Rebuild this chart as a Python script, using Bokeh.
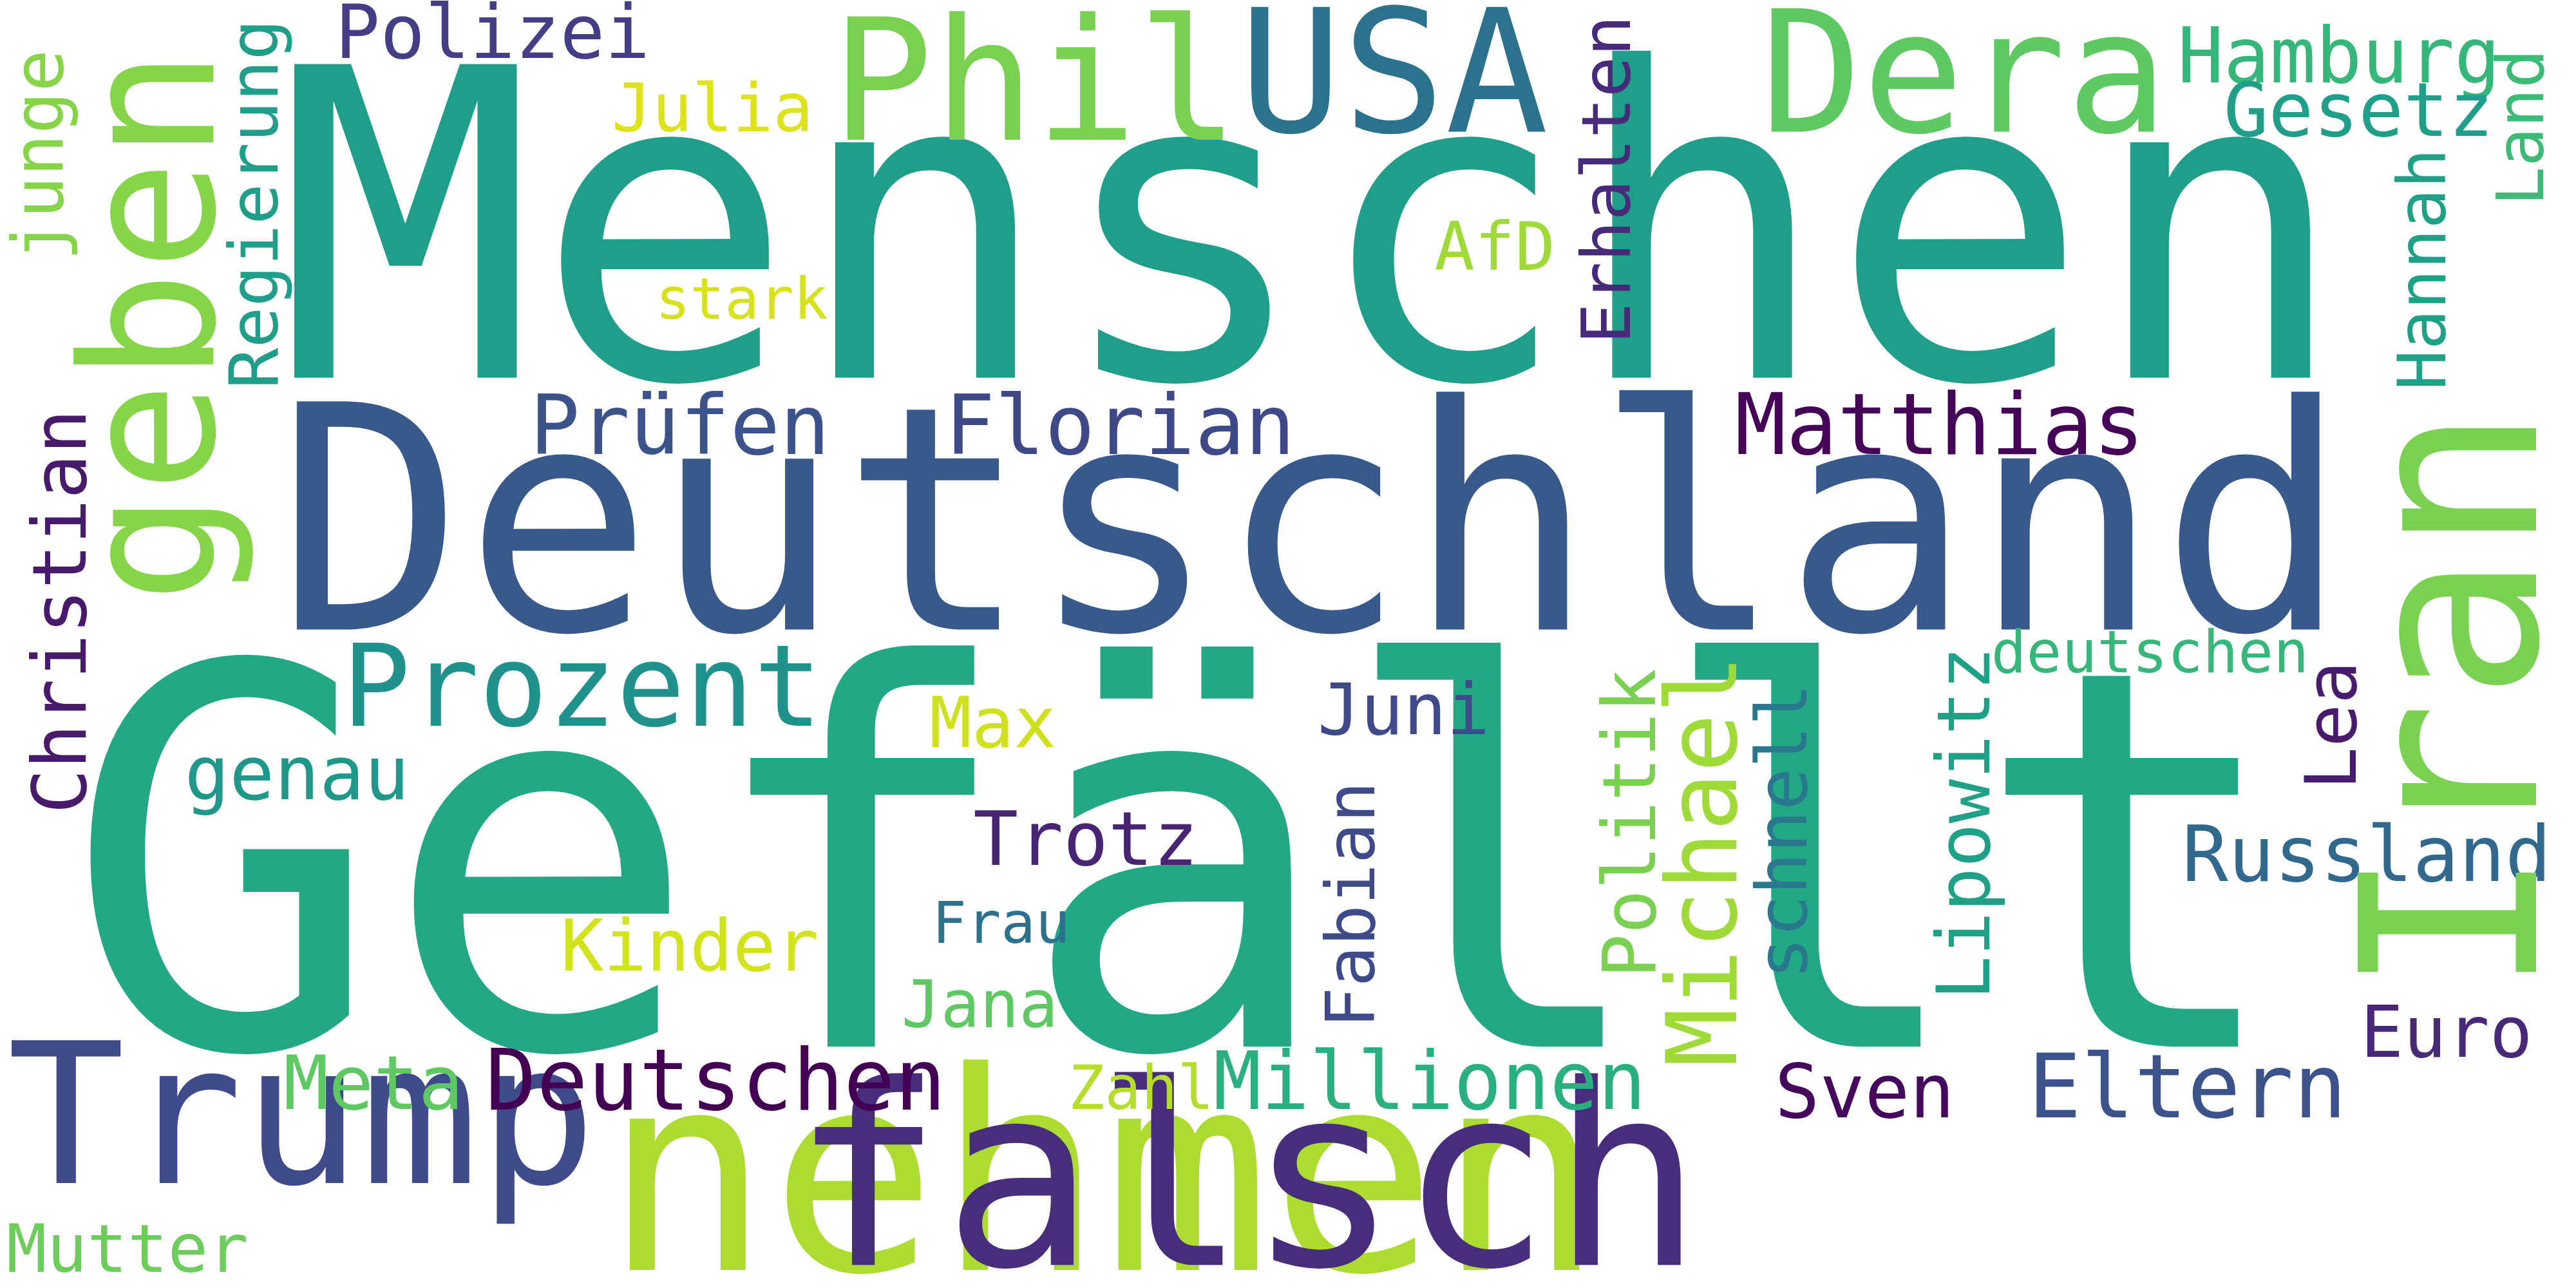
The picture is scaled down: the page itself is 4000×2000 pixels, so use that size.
import math
from bokeh.plotting import figure
from bokeh.models import ColumnDataSource, Range1d
from bokeh.core.properties import value
from bokeh.embed import file_html
from bokeh.resources import INLINE

W, H = 3968, 1984
ref_w, ref_h = 1568, 784
scale = W / ref_w

words = ["Menschen", "Gefällt", "Deutschland", "nehmen", "falsch", "Trump", "Phil", "USA", "Dera",
         "Prozent", "Prüfen", "Florian", "Matthias", "Polizei", "Julia", "Hamburg", "Gesetz", "AfD",
         "stark", "genau", "Juni", "Max", "Trotz", "Kinder", "Frau", "Jana", "Meta", "Deutschen",
         "Zahl", "Millionen", "Sven", "Eltern", "Euro", "Russland", "deutschen", "Mutter",
         "geben", "Iran", "Regierung", "junge", "Christian", "Erhalten", "Hannah", "Land", "Lea",
         "Fabian", "Politik", "Michael", "schnell", "Lipowitz"]
xs = [805, 722, 805, 677, 765, 185, 635, 855, 1205,
      357, 417, 687, 1190, 302, 437, 1435, 1447, 917,
      455, 182, 861, 609, 666, 423, 614, 601, 229, 439,
      700, 877, 1144, 1342, 1501, 1452, 1319, 78,
      130, 1555, 170, 38, 52, 1000, 1500, 1560, 1445,
      843, 1015, 1065, 1108, 1220]
ys = [230, 640, 385, 778, 775, 725, 85, 80, 80,
      445, 278, 278, 278, 35, 80, 50, 83, 165,
      195, 490, 450, 458, 530, 595, 578, 630, 680, 680,
      680, 680, 685, 685, 648, 540, 412, 780,
      200, 430, 125, 95, 375, 110, 165, 78, 445,
      555, 505, 528, 510, 505]
sizes = [264, 324, 192, 170, 155, 120, 104, 105, 104,
         70, 51, 51, 52, 46, 41, 47, 46, 41,
         35, 46, 44, 43, 46, 44, 35, 40, 46, 52,
         37, 49, 46, 54, 44, 47, 36, 41,
         113, 150, 42, 43, 46, 42, 41, 40, 44,
         42, 45, 60, 43, 45]
vertical = [0] * 36 + [1] * 14
colors = ["#1f9e89", "#22a884", "#38598c", "#addc30", "#472d7b", "#3e4a89", "#7ad151", "#2c728e", "#5ec962",
          "#21918c", "#3b528b", "#3e4989", "#450457", "#433e85", "#dde318", "#35b779", "#1f9e89", "#a0da39",
          "#d8e219", "#1f988b", "#3e4a89", "#d0e11c", "#482475", "#d2e21b", "#2c728e", "#5ec962", "#5ec962", "#440154",
          "#b5de2b", "#2ab07f", "#46085c", "#3b528b", "#482878", "#31688e", "#35b779", "#6ccd5a",
          "#86d549", "#7ad151", "#1f9e89", "#86d549", "#481a6c", "#472a7a", "#1fa187", "#3bbb75", "#481b6d",
          "#3e4a89", "#7ad151", "#a0da39", "#2a788e", "#1fa187"]

# the renderer puts the baseline about 0.34 em lower than asked; compensate
shift = 0.34
px = [x - shift * s if v else x for x, s, v in zip(xs, sizes, vertical)]
py = [y if v else y - shift * s for y, s, v in zip(ys, sizes, vertical)]

src = ColumnDataSource(dict(
    x=px, y=py, text=words, color=colors,
    size=[f"{s * scale:.0f}px" for s in sizes],
    angle=[math.pi / 2 if v else 0 for v in vertical],
))

p = figure(width=W, height=H, output_backend="svg", toolbar_location=None,
           x_range=Range1d(0, ref_w), y_range=Range1d(ref_h, 0), min_border=0)
p.axis.visible = False
p.grid.visible = False
p.outline_line_color = None
p.background_fill_color = "white"

p.text(x="x", y="y", text="text", source=src, text_color="color", text_font_size="size",
       angle="angle", text_align="center", text_baseline="alphabetic",
       text_font=value("DejaVu Sans Mono"))

open("out.html", "w").write(file_html(p, INLINE))
